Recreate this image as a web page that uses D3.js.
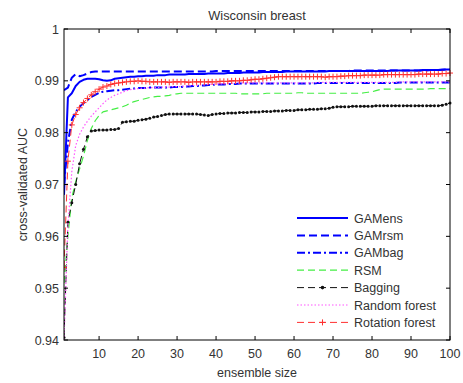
<!DOCTYPE html>
<html><head><meta charset="utf-8">
<script src="https://cdn.jsdelivr.net/npm/d3@7"></script>
<style>body{margin:0;background:#fff}svg{display:block}text{font-family:"Liberation Sans",Arial,sans-serif}</style>
</head><body><svg id="c" width="463" height="383"></svg>
<script>
const title = "Wisconsin breast";
const xLabel = "ensemble size";
const yLabel = "cross-validated AUC";
const xTicks = [10,20,30,40,50,60,70,80,90,100];
const yTicks = [0.94,0.95,0.96,0.97,0.98,0.99,1];
const yTickLabels = ["0.94","0.95","0.96","0.97","0.98","0.99","1"];
const seriesNames = ["GAMens","GAMrsm","GAMbag","RSM","Bagging","Random forest","Rotation forest"];

const gamens = [0.9680,0.9868,0.9876,0.9890,0.9898,0.9902,0.9904,0.9904,0.9904,0.9903,
0.9901,0.9900,0.9901,0.9904,0.9905,0.9906,0.9907,0.9908,0.9908,0.9909,
0.9909,0.9910,0.9910,0.9910,0.9911,0.9911,0.9911,0.9912,0.9912,0.9912,
0.9912,0.9912,0.9913,0.9913,0.9913,0.9913,0.9913,0.9914,0.9914,0.9914,
0.9914,0.9914,0.9915,0.9915,0.9915,0.9915,0.9916,0.9916,0.9916,0.9916,
0.9916,0.9917,0.9917,0.9917,0.9917,0.9917,0.9917,0.9918,0.9918,0.9918,
0.9918,0.9918,0.9918,0.9918,0.9918,0.9918,0.9918,0.9918,0.9919,0.9919,
0.9919,0.9919,0.9919,0.9919,0.9919,0.9919,0.9919,0.9919,0.9919,0.9919,
0.9919,0.9919,0.9919,0.9919,0.9920,0.9920,0.9920,0.9920,0.9920,0.9920,
0.9920,0.9920,0.9921,0.9921,0.9921,0.9921,0.9921,0.9922,0.9922,0.9922];

const gamrsm = [0.9882,0.9887,0.9906,0.9913,0.9909,0.9911,0.9914,0.9917,0.9918,0.9918,
0.9918,0.9918,0.9918,0.9918,0.9918,0.9918,0.9918,0.9918,0.9918,0.9918,
0.9918,0.9918,0.9918,0.9918,0.9918,0.9918,0.9918,0.9918,0.9918,0.9918,
0.9918,0.9918,0.9918,0.9918,0.9918,0.9918,0.9918,0.9918,0.9918,0.9919,
0.9919,0.9919,0.9919,0.9919,0.9919,0.9919,0.9919,0.9919,0.9919,0.9919,
0.9919,0.9919,0.9919,0.9919,0.9919,0.9919,0.9919,0.9919,0.9919,0.9919,
0.9919,0.9919,0.9919,0.9919,0.9919,0.9919,0.9919,0.9919,0.9919,0.9919,
0.9919,0.9919,0.9919,0.9919,0.9920,0.9920,0.9920,0.9920,0.9920,0.9920,
0.9920,0.9920,0.9920,0.9920,0.9920,0.9920,0.9920,0.9920,0.9920,0.9920,
0.9920,0.9920,0.9920,0.9920,0.9921,0.9921,0.9921,0.9921,0.9922,0.9922];

const gambag = [0.9700,0.9780,0.9825,0.9840,0.9850,0.9857,0.9863,0.9869,0.9873,0.9877,
0.9879,0.9880,0.9881,0.9882,0.9882,0.9883,0.9884,0.9885,0.9885,0.9886,
0.9886,0.9886,0.9887,0.9887,0.9887,0.9887,0.9887,0.9887,0.9888,0.9888,
0.9888,0.9889,0.9889,0.9890,0.9890,0.9891,0.9891,0.9892,0.9892,0.9893,
0.9893,0.9893,0.9894,0.9894,0.9894,0.9895,0.9895,0.9895,0.9895,0.9895,
0.9895,0.9895,0.9895,0.9895,0.9895,0.9895,0.9895,0.9895,0.9895,0.9895,
0.9895,0.9895,0.9895,0.9895,0.9895,0.9896,0.9896,0.9896,0.9896,0.9896,
0.9896,0.9896,0.9896,0.9896,0.9896,0.9896,0.9896,0.9896,0.9896,0.9896,
0.9896,0.9896,0.9896,0.9896,0.9896,0.9896,0.9897,0.9897,0.9897,0.9897,
0.9897,0.9897,0.9897,0.9897,0.9897,0.9897,0.9897,0.9897,0.9897,0.9897];

const rsm = [0.9510,0.9600,0.9675,0.9705,0.9730,0.9755,0.9785,0.9808,0.9823,0.9833,
0.9840,0.9842,0.9844,0.9846,0.9848,0.9850,0.9853,0.9857,0.9860,0.9862,
0.9864,0.9866,0.9868,0.9869,0.9870,0.9870,0.9871,0.9872,0.9874,0.9875,
0.9876,0.9876,0.9876,0.9876,0.9876,0.9876,0.9876,0.9876,0.9876,0.9876,
0.9876,0.9876,0.9876,0.9876,0.9876,0.9875,0.9875,0.9875,0.9875,0.9875,
0.9875,0.9875,0.9876,0.9876,0.9876,0.9876,0.9876,0.9876,0.9876,0.9876,
0.9877,0.9877,0.9876,0.9876,0.9876,0.9876,0.9876,0.9876,0.9876,0.9876,
0.9876,0.9876,0.9876,0.9876,0.9876,0.9876,0.9876,0.9877,0.9878,0.9879,
0.9881,0.9883,0.9884,0.9884,0.9884,0.9884,0.9884,0.9884,0.9884,0.9884,
0.9884,0.9884,0.9884,0.9884,0.9885,0.9885,0.9885,0.9885,0.9885,0.9885];

const bagging = [0.9405,0.9627,0.9665,0.9700,0.9740,0.9768,0.9792,0.9803,0.9804,0.9805,
0.9805,0.9805,0.9806,0.9806,0.9808,0.9820,0.9821,0.9822,0.9822,0.9824,
0.9825,0.9826,0.9828,0.9830,0.9831,0.9833,0.9835,0.9836,0.9836,0.9836,
0.9836,0.9836,0.9836,0.9836,0.9836,0.9835,0.9834,0.9833,0.9835,0.9836,
0.9837,0.9837,0.9838,0.9838,0.9838,0.9839,0.9839,0.9839,0.9840,0.9840,
0.9840,0.9841,0.9841,0.9841,0.9842,0.9842,0.9842,0.9843,0.9843,0.9843,
0.9844,0.9844,0.9844,0.9845,0.9845,0.9845,0.9846,0.9846,0.9847,0.9849,
0.9850,0.9850,0.9850,0.9850,0.9851,0.9851,0.9851,0.9851,0.9851,0.9851,
0.9852,0.9852,0.9852,0.9852,0.9852,0.9852,0.9852,0.9852,0.9852,0.9852,
0.9852,0.9852,0.9852,0.9852,0.9852,0.9852,0.9852,0.9853,0.9855,0.9857];

const randomForest = [0.9400,0.9620,0.9725,0.9775,0.9797,0.9811,0.9822,0.9832,0.9840,0.9848,
0.9856,0.9863,0.9868,0.9872,0.9875,0.9878,0.9881,0.9883,0.9884,0.9885,
0.9886,0.9886,0.9887,0.9887,0.9887,0.9888,0.9888,0.9888,0.9889,0.9889,
0.9889,0.9890,0.9890,0.9891,0.9891,0.9892,0.9892,0.9893,0.9893,0.9894,
0.9894,0.9894,0.9895,0.9895,0.9895,0.9896,0.9896,0.9896,0.9896,0.9896,
0.9896,0.9896,0.9896,0.9896,0.9896,0.9896,0.9896,0.9896,0.9896,0.9896,
0.9896,0.9896,0.9896,0.9896,0.9896,0.9897,0.9897,0.9897,0.9897,0.9897,
0.9897,0.9897,0.9897,0.9897,0.9897,0.9897,0.9897,0.9897,0.9897,0.9897,
0.9897,0.9897,0.9897,0.9897,0.9897,0.9897,0.9898,0.9898,0.9898,0.9898,
0.9898,0.9898,0.9898,0.9898,0.9898,0.9898,0.9898,0.9898,0.9898,0.9898];

const rotationForest = [0.9540,0.9745,0.9815,0.9835,0.9848,0.9858,0.9866,0.9873,0.9879,0.9884,
0.9888,0.9890,0.9893,0.9895,0.9896,0.9897,0.9898,0.9899,0.9899,0.9900,
0.9899,0.9899,0.9898,0.9898,0.9898,0.9898,0.9898,0.9897,0.9898,0.9898,
0.9898,0.9898,0.9897,0.9898,0.9898,0.9898,0.9898,0.9898,0.9898,0.9898,
0.9899,0.9899,0.9899,0.9900,0.9900,0.9900,0.9901,0.9901,0.9902,0.9903,
0.9903,0.9904,0.9905,0.9906,0.9907,0.9908,0.9908,0.9908,0.9908,0.9908,
0.9908,0.9908,0.9908,0.9908,0.9908,0.9908,0.9908,0.9907,0.9908,0.9908,
0.9908,0.9909,0.9909,0.9910,0.9910,0.9910,0.9910,0.9911,0.9911,0.9911,
0.9911,0.9911,0.9912,0.9912,0.9912,0.9912,0.9912,0.9912,0.9912,0.9912,
0.9912,0.9913,0.9913,0.9913,0.9913,0.9913,0.9913,0.9914,0.9914,0.9915];

const seriesValues = [gamens, gamrsm, gambag, rsm, bagging, randomForest, rotationForest];
const styles = [
  {color:"#0000ff", width:2, dash:null, marker:null},
  {color:"#0000ff", width:2, dash:"8,4", marker:null},
  {color:"#0000ff", width:2, dash:"8,3,2,3", marker:null},
  {color:"#44ee44", width:1.2, dash:"7,4", marker:null},
  {color:"#111111", width:1, dash:"7,4", marker:"dot"},
  {color:"#ff55ff", width:1.2, dash:"1.5,2", marker:null},
  {color:"#ff3030", width:1, dash:"7,4", marker:"plus"}
];

const svg = d3.select("#c");
const L = 64, R = 450, T = 29, B = 340;
const x = d3.scaleLinear().domain([1,100]).range([L,R]);
const y = d3.scaleLinear().domain([0.94,1]).range([B,T]);
const textColor = "#333";
const fs = 12.5;

svg.append("defs").append("clipPath").attr("id","pc")
  .append("rect").attr("x",L).attr("y",T-2).attr("width",R-L+3).attr("height",B-T+2);

const plot = svg.append("g").attr("clip-path","url(#pc)");
const line = d3.line().x((d,i)=>x(i+1)).y(d=>y(d));

seriesValues.forEach((vals,k)=>{
  const s = styles[k];
  plot.append("path").datum(vals).attr("d",line)
    .attr("fill","none").attr("stroke",s.color).attr("stroke-width",s.width)
    .attr("stroke-dasharray",s.dash).attr("stroke-linejoin","round");
  if (s.marker==="dot") {
    plot.selectAll(null).data(vals).enter().append("circle")
      .attr("cx",(d,i)=>x(i+1)).attr("cy",d=>y(d)).attr("r",1.5).attr("fill",s.color);
  } else if (s.marker==="plus") {
    plot.selectAll(null).data(vals).enter().append("path")
      .attr("d",(d,i)=>{const cx=x(i+1), cy=y(d); return `M${cx-3},${cy}H${cx+3}M${cx},${cy-3}V${cy+3}`;})
      .attr("stroke",s.color).attr("stroke-width",1).attr("fill","none");
  }
});

const ax = svg.append("g");
ax.append("rect").attr("x",L).attr("y",T).attr("width",R-L).attr("height",B-T)
  .attr("fill","none").attr("stroke","#000").attr("stroke-width",1);
const tl = 4;
xTicks.forEach(t=>{
  ax.append("line").attr("x1",x(t)).attr("x2",x(t)).attr("y1",B).attr("y2",B-tl).attr("stroke","#000");
  ax.append("line").attr("x1",x(t)).attr("x2",x(t)).attr("y1",T).attr("y2",T+tl).attr("stroke","#000");
  ax.append("text").attr("x",x(t)).attr("y",B+17.5).attr("text-anchor","middle")
    .attr("font-size",fs).attr("fill",textColor).text(t);
});
yTicks.forEach((t,i)=>{
  ax.append("line").attr("x1",L).attr("x2",L+tl).attr("y1",y(t)).attr("y2",y(t)).attr("stroke","#000");
  ax.append("line").attr("x1",R).attr("x2",R-tl).attr("y1",y(t)).attr("y2",y(t)).attr("stroke","#000");
  ax.append("text").attr("x",L-5).attr("y",y(t)+4.5).attr("text-anchor","end")
    .attr("font-size",fs).attr("fill",textColor).text(yTickLabels[i]);
});

svg.append("text").attr("x",(L+R)/2).attr("y",19.5).attr("text-anchor","middle")
  .attr("font-size",12.8).attr("fill",textColor).text(title);
svg.append("text").attr("x",(L+R)/2).attr("y",377).attr("text-anchor","middle")
  .attr("font-size",fs).attr("fill",textColor).text(xLabel);
svg.append("text").attr("transform",`translate(26.5,${(T+B)/2}) rotate(-90)`).attr("text-anchor","middle")
  .attr("font-size",fs).attr("fill",textColor).text(yLabel);

const lg = svg.append("g");
seriesNames.forEach((name,k)=>{
  const s = styles[k];
  const cy = 218 + k*17.4;
  lg.append("line").attr("x1",297).attr("x2",348).attr("y1",cy).attr("y2",cy)
    .attr("stroke",s.color).attr("stroke-width",s.width).attr("stroke-dasharray",s.dash);
  if (s.marker==="dot") lg.append("circle").attr("cx",322.5).attr("cy",cy).attr("r",1.8).attr("fill",s.color);
  if (s.marker==="plus") lg.append("path").attr("d",`M319.5,${cy}H325.5M322.5,${cy-3}V${cy+3}`).attr("stroke",s.color);
  lg.append("text").attr("x",354).attr("y",cy+4.5).attr("font-size",fs).attr("fill",textColor).text(name);
});
</script></body></html>
